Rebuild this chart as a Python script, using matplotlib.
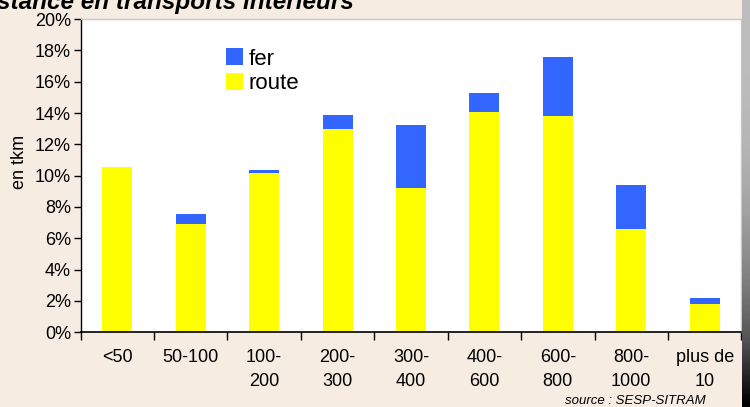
import numpy as np
import matplotlib.pyplot as plt
from matplotlib.patches import Patch

# Parts (%) of inland freight tkm by distance class
classes = ["<50", "50-100", "100-\n200", "200-\n300", "300-\n400",
           "400-\n600", "600-\n800", "800-\n1000", "plus de\n10"]
route = [10.55, 6.9, 10.15, 12.95, 9.2, 14.05, 13.8, 6.6, 1.8]
fer   = [0.0, 0.65, 0.2, 0.9, 4.05, 1.25, 3.8, 2.8, 0.4]

yticks = [0, 2, 4, 6, 8, 10, 12, 14, 16, 18, 20]

BG     = "#F6ECE2"
YELLOW = "#FFFF00"
BLUE   = "#3366FF"

plt.rcParams["font.family"] = ["Liberation Sans", "DejaVu Sans"]

fig = plt.figure(figsize=(7.5, 4.07), dpi=100, facecolor=BG)
ax = fig.add_axes([0.1075, 0.184, 0.881, 0.769])
ax.set_facecolor("white")

x = np.arange(len(classes))
w = 0.41
ax.bar(x, route, width=w, color=YELLOW, linewidth=0, label="route")
ax.bar(x, fer, width=w, bottom=route, color=BLUE, linewidth=0, label="fer")

ax.set_xlim(-0.5, len(classes) - 0.5)
ax.set_ylim(0, 20)
ax.set_yticks(yticks)
ax.set_yticklabels([f"{v}%" for v in yticks], fontsize=13)

# ticks sit on the class boundaries, labels in the middle
ax.set_xticks(np.arange(len(classes) + 1) - 0.5)
ax.set_xticklabels([])
ax.tick_params(axis="x", length=6, width=1, direction="out")
ax.tick_params(axis="y", length=5, width=1, direction="out", pad=2)
for i, lab in enumerate(classes):
    ax.text(i, -1.05, lab, ha="center", va="top", fontsize=13,
            linespacing=1.55)

for side in ["top", "right"]:
    ax.spines[side].set_color("#C8C8C8")
    ax.spines[side].set_linewidth(1)
ax.spines["left"].set_linewidth(1)
ax.spines["bottom"].set_linewidth(1.2)

ax.set_ylabel("en tkm", fontsize=13, labelpad=0)
ax.yaxis.set_label_coords(-0.079, 0.545)

handles = [Patch(facecolor=BLUE, label="fer"),
           Patch(facecolor=YELLOW, label="route")]
ax.legend(handles=handles, loc="upper left", bbox_to_anchor=(0.207, 0.935),
          frameon=False, fontsize=16, handlelength=0.75, handleheight=0.8,
          handletextpad=0.25, labelspacing=0.15, borderaxespad=0)

fig.text(-0.004, 1.023, "stance en transports intérieurs", ha="left", va="top",
         fontsize=17.5, fontweight="bold", fontstyle="italic")
fig.text(0.847, 0.0, "source : SESP-SITRAM", ha="center", va="bottom",
         fontsize=9.5, fontstyle="italic")

# dark frame shadow down the right edge
shade = np.linspace(0, 1, 64)[:, None] * np.ones((1, 8))
edge = fig.add_axes([0.9893, 0.0, 0.0107, 1.0])
edge.imshow(shade ** 3, aspect="auto", cmap="Greys", vmin=-0.6, vmax=1.0,
            origin="upper", extent=[0, 1, 0, 1])
edge.axis("off")

fig.savefig("out.png", dpi=100, facecolor=BG)
